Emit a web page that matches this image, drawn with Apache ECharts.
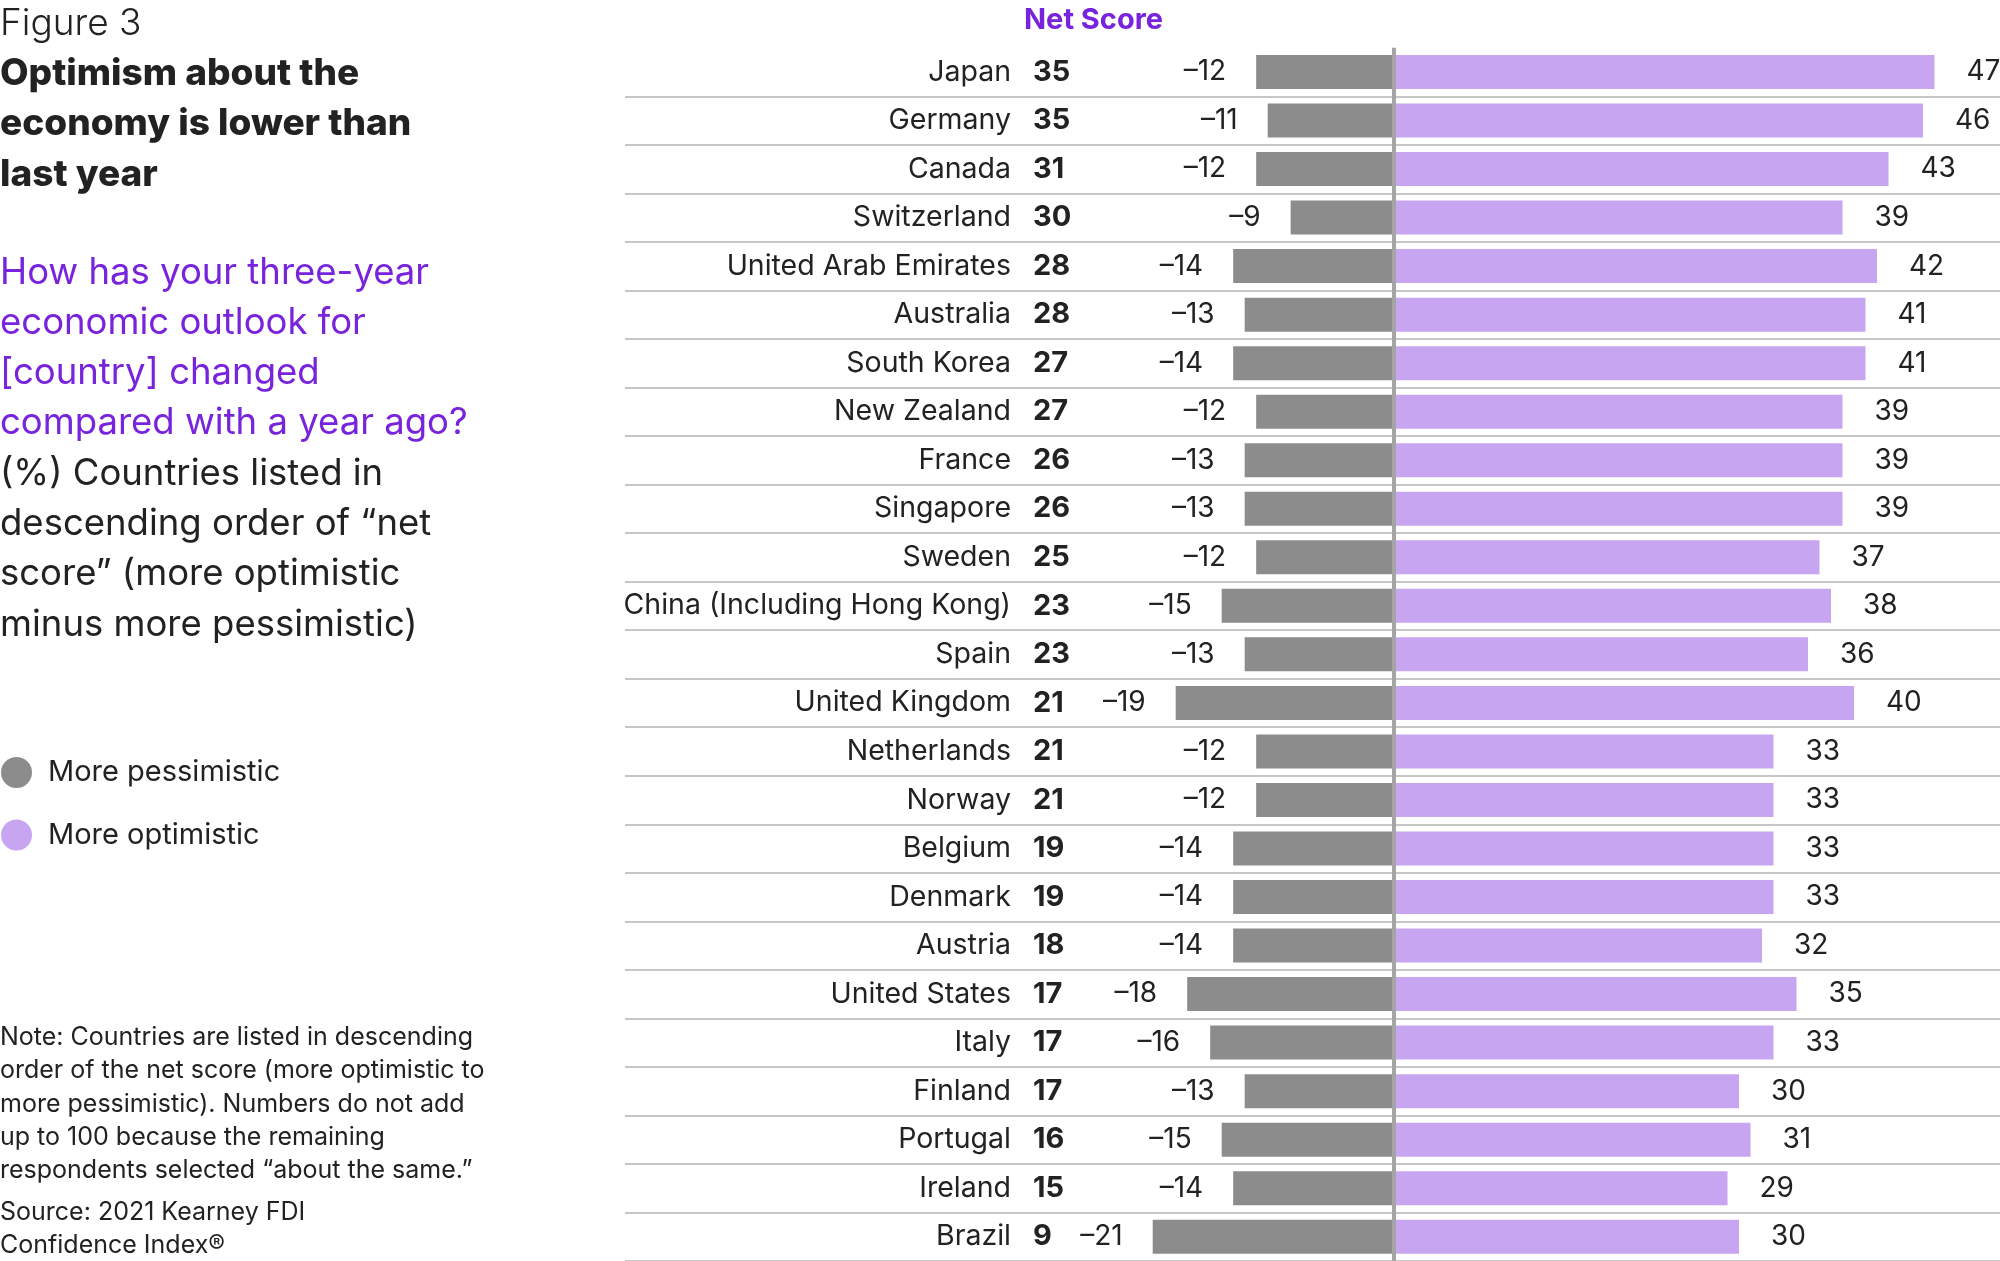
<!DOCTYPE html>
<html>
<head>
<meta charset="utf-8">
<script src="https://cdn.jsdelivr.net/npm/echarts@6/dist/echarts.min.js"></script>
<style>
html,body{margin:0;padding:0;background:#fff;}
#chart{width:2000px;height:1261px;}
</style>
</head>
<body>
<div id="chart"></div>
<script>
const countries = ["Japan","Germany","Canada","Switzerland","United Arab Emirates","Australia","South Korea","New Zealand","France","Singapore","Sweden","China (Including Hong Kong)","Spain","United Kingdom","Netherlands","Norway","Belgium","Denmark","Austria","United States","Italy","Finland","Portugal","Ireland","Brazil"];
const netScore = [35,35,31,30,28,28,27,27,26,26,25,23,23,21,21,21,19,19,18,17,17,17,16,15,9];
const pessimistic = [-12,-11,-12,-9,-14,-13,-14,-12,-13,-13,-12,-15,-13,-19,-12,-12,-14,-14,-14,-18,-16,-13,-15,-14,-21];
const optimistic = [47,46,43,39,42,41,41,39,39,39,37,38,36,40,33,33,33,33,32,35,33,30,31,29,30];
const seriesNames = ["More pessimistic","More optimistic"];

const FONT = "Inter, 'Noto Sans', sans-serif";
const DARK = "#222222";
const PURPLE = "#7823DC";
const GRAY_BAR = "#8c8c8c";
const PURPLE_BAR = "#c8a5f0";

const GRID_TOP = 47.7, GRID_H = 1216;
const BAND = GRID_H / countries.length;

const chart = echarts.init(document.getElementById('chart'), null, {renderer:'canvas'});
const fmtVal = p => (p.value < 0 ? '\u2013' + Math.abs(p.value) : String(p.value));

chart.setOption({
  animation:false,
  backgroundColor:'#ffffff',
  textStyle:{fontFamily:FONT},
  title:[
    {text:'Figure 3', left:0, top:2, padding:0,
     textStyle:{fontFamily:FONT, fontWeight:300, fontSize:37, color:DARK, lineHeight:44}},
    {text:'Optimism about the\neconomy is lower than\nlast year', left:0, top:48.5, padding:0,
     textStyle:{fontFamily:FONT, fontWeight:800, fontSize:37, color:DARK, lineHeight:50.4}},
    {text:'How has your three-year\neconomic outlook for\n[country] changed\ncompared with a year ago?', left:0, top:247.6, padding:0,
     textStyle:{fontFamily:FONT, fontWeight:'normal', fontSize:36.5, color:PURPLE, lineHeight:50.2}},
    {text:'(%) Countries listed in\ndescending order of \u201cnet\nscore\u201d (more optimistic\nminus more pessimistic)', left:0, top:449, padding:0,
     textStyle:{fontFamily:FONT, fontWeight:'normal', fontSize:36.5, color:DARK, lineHeight:50.2}},
    {text:'Note: Countries are listed in descending\norder of the net score (more optimistic to\nmore pessimistic). Numbers do not add\nup to 100 because the remaining\nrespondents selected \u201cabout the same.\u201d', left:0, top:1021, padding:0,
     textStyle:{fontFamily:FONT, fontWeight:'normal', fontSize:25, color:DARK, lineHeight:33.2}},
    {text:'Source: 2021 Kearney FDI\nConfidence Index\u00ae', left:0, top:1196, padding:0,
     textStyle:{fontFamily:FONT, fontWeight:'normal', fontSize:25, color:DARK, lineHeight:33}},
    {text:'Net Score', left:1024, top:3, padding:0,
     textStyle:{fontFamily:FONT, fontWeight:'bold', fontSize:29, color:PURPLE, lineHeight:34}}
  ],
  legend:{
    orient:'vertical', left:1, top:757, padding:0,
    itemWidth:31, itemHeight:31, itemGap:31.5, icon:'circle',
    data:seriesNames,
    textStyle:{fontFamily:FONT, fontSize:29, color:DARK, padding:[0,0,0,11]}
  },
  grid:[
    {left:625, right:0, top:GRID_TOP, height:GRID_H, containLabel:false},
    // separator grid: rows 2..n, so the first line sits between the first and second row
    {left:625, right:0, top:GRID_TOP + BAND, height:GRID_H - BAND, containLabel:false}
  ],
  xAxis:[
    {gridIndex:0, type:'value', min:-66.9, max:52.7, show:false, splitLine:{show:false}},
    {gridIndex:1, type:'value', min:0, max:1, show:false, splitLine:{show:false}}
  ],
  yAxis:[
    {gridIndex:0, type:'category', inverse:true, data:countries, position:'left', offset:-386,
     axisLine:{show:false}, axisTick:{show:false}, splitLine:{show:false},
     axisLabel:{interval:0, margin:0, fontFamily:FONT, fontSize:28.5, color:DARK, padding:[3,0,0,0]}
    },
    {gridIndex:0, type:'category', inverse:true, data:netScore.map(String), position:'left', offset:-408,
     axisLine:{show:false}, axisTick:{show:false}, splitLine:{show:false},
     axisLabel:{interval:0, margin:0, align:'left', fontFamily:FONT, fontSize:29, fontWeight:'bold', color:DARK, padding:[3,0,0,0]}
    },
    {gridIndex:1, type:'category', inverse:true, data:countries.slice(1),
     axisLine:{show:false}, axisTick:{show:false}, axisLabel:{show:false},
     splitLine:{show:true, interval:0, lineStyle:{color:'#c6c6c6', width:2}}
    }
  ],
  series:[
    {name:seriesNames[0], type:'bar', xAxisIndex:0, yAxisIndex:0, data:pessimistic, barWidth:34, barGap:'-100%',
     itemStyle:{color:GRAY_BAR},
     label:{show:true, position:'left', distance:30, formatter:fmtVal, fontFamily:FONT, fontSize:28, color:DARK, padding:[3,0,0,0]}
    },
    {name:seriesNames[1], type:'bar', xAxisIndex:0, yAxisIndex:0, data:optimistic, barWidth:34, barGap:'-100%',
     itemStyle:{color:PURPLE_BAR},
     label:{show:true, position:'right', distance:32, formatter:fmtVal, fontFamily:FONT, fontSize:28, color:DARK, padding:[3,0,0,0]},
     markLine:{silent:true, symbol:'none', label:{show:false},
       lineStyle:{color:'#a5a5a5', width:4, type:'solid'},
       data:[{xAxis:0}]}
    }
  ]
});
</script>
</body>
</html>
